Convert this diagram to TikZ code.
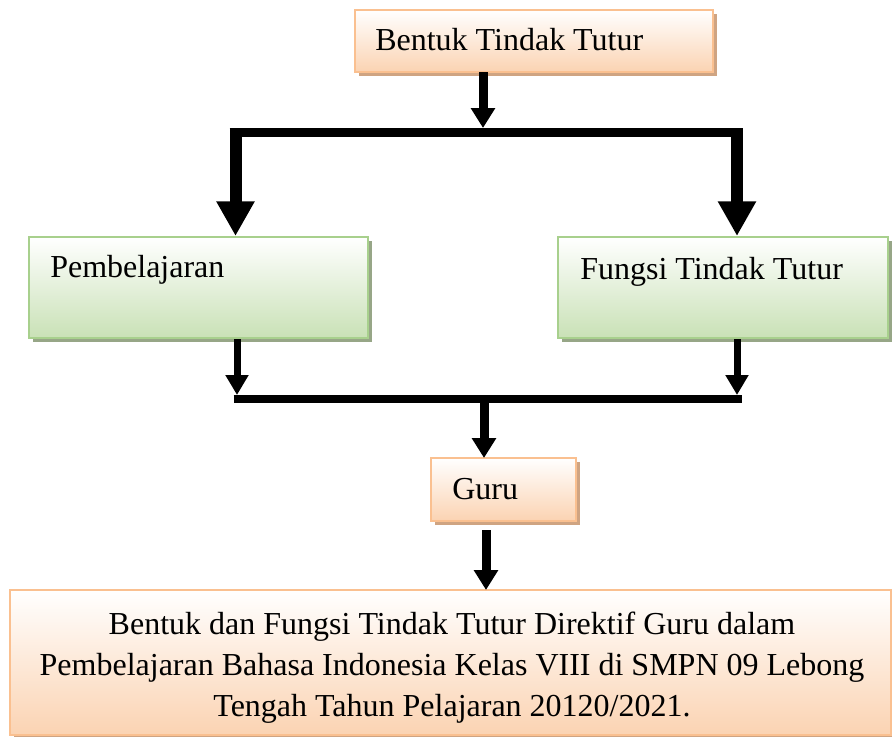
\documentclass[tikz,border=0pt]{standalone}
\usepackage{fontspec}
\setmainfont{Liberation Serif}
\usetikzlibrary{arrows.meta,fit,shadows}
\definecolor{obord}{HTML}{FAC090}
\definecolor{ofill}{HTML}{FBD3B2}
\definecolor{oshad}{HTML}{CFA482}
\definecolor{gbord}{HTML}{A8D08D}
\definecolor{gfill}{HTML}{C9E1B6}
\definecolor{gshad}{HTML}{97A687}
\tikzset{
  obox/.style={inner sep=0pt, draw=obord, line width=1.9pt,
    top color=white, bottom color=ofill,
    drop shadow={shadow xshift=3pt, shadow yshift=-3pt, fill=oshad, opacity=1}},
  gbox/.style={inner sep=0pt, draw=gbord, line width=1.9pt,
    top color=white, bottom color=gfill,
    drop shadow={shadow xshift=3pt, shadow yshift=-3pt, fill=gshad, opacity=1}},
  lbl/.style={inner sep=0pt, font=\fontsize{24}{29}\selectfont},
  bigarrow/.style={line width=9pt, -{Triangle[width=27pt,length=26pt]}},
  midarrow/.style={line width=6.75pt, -{Triangle[width=17.5pt,length=15pt]}},
  smallarrow/.style={line width=5.25pt, -{Triangle[width=16.5pt,length=15pt]}},
  bar/.style={line width=#1, line cap=butt},
}
\begin{document}
\begin{tikzpicture}[x=0.75pt,y=-0.75pt]
\useasboundingbox (0,0) rectangle (892,736);
% corner coordinates
\coordinate (topA) at (355,10);  \coordinate (topB) at (713,72);
\coordinate (pemA) at (29,237);  \coordinate (pemB) at (368,338);
\coordinate (funA) at (558,237); \coordinate (funB) at (888,338);
\coordinate (guA) at (431,458);  \coordinate (guB) at (576,521);
\coordinate (boA) at (10,590);   \coordinate (boB) at (891,735);
% boxes
\node[obox, fit=(topA) (topB)] (top) {};
\node[gbox, fit=(pemA) (pemB)] (pem) {};
\node[gbox, fit=(funA) (funB)] (fun) {};
\node[obox, fit=(guA) (guB)] (guru) {};
\node[obox, fit=(boA) (boB)] (bot) {};
% labels
\node[lbl, anchor=base west] (ttop) at (375,50) {Bentuk Tindak Tutur};
\node[lbl, anchor=base west] (tpem) at (50,277) {Pembelajaran};
\node[lbl, anchor=base west] (tfun) at (580,279) {Fungsi Tindak Tutur};
\node[lbl, anchor=base west] (tguru) at (452,499) {Guru};
\node[lbl, anchor=base] (b1) at (452,634) {Bentuk dan Fungsi Tindak Tutur Direktif Guru dalam};
\node[lbl, anchor=base] (b2) at (452,675) {Pembelajaran Bahasa Indonesia Kelas VIII di SMPN 09 Lebong};
\node[lbl, anchor=base] (b3) at (452,716) {Tengah Tahun Pelajaran 20120/2021.};
% junction coordinates
\coordinate (s1) at (483,72);
\coordinate (j1) at (483,128);
\coordinate (h1l) at (229.5,132.5);
\coordinate (h1r) at (743,132.5);
\coordinate (v1l) at (235.5,128);
\coordinate (v1r) at (737,128);
\coordinate (p1) at (235.5,236);
\coordinate (f1) at (737,236);
\coordinate (ps) at (237,339);
\coordinate (fs) at (737,339);
\coordinate (pj) at (237,395);
\coordinate (fj) at (737,395);
\coordinate (h2l) at (233.5,399);
\coordinate (h2r) at (742,399);
\coordinate (m1) at (484,403);
\coordinate (g1) at (484,458);
\coordinate (gs) at (486,530);
\coordinate (b0) at (486,590);
% connectors
\draw[midarrow] (s1) -- (j1);
\draw[bar=7pt] (h1l) -- (h1r);
\draw[bigarrow] (v1l) -- (p1);
\draw[bigarrow] (v1r) -- (f1);
\draw[smallarrow] (ps) -- (pj);
\draw[smallarrow] (fs) -- (fj);
\draw[bar=6pt] (h2l) -- (h2r);
\draw[midarrow] (m1) -- (g1);
\draw[midarrow] (gs) -- (b0);
\end{tikzpicture}
\end{document}
